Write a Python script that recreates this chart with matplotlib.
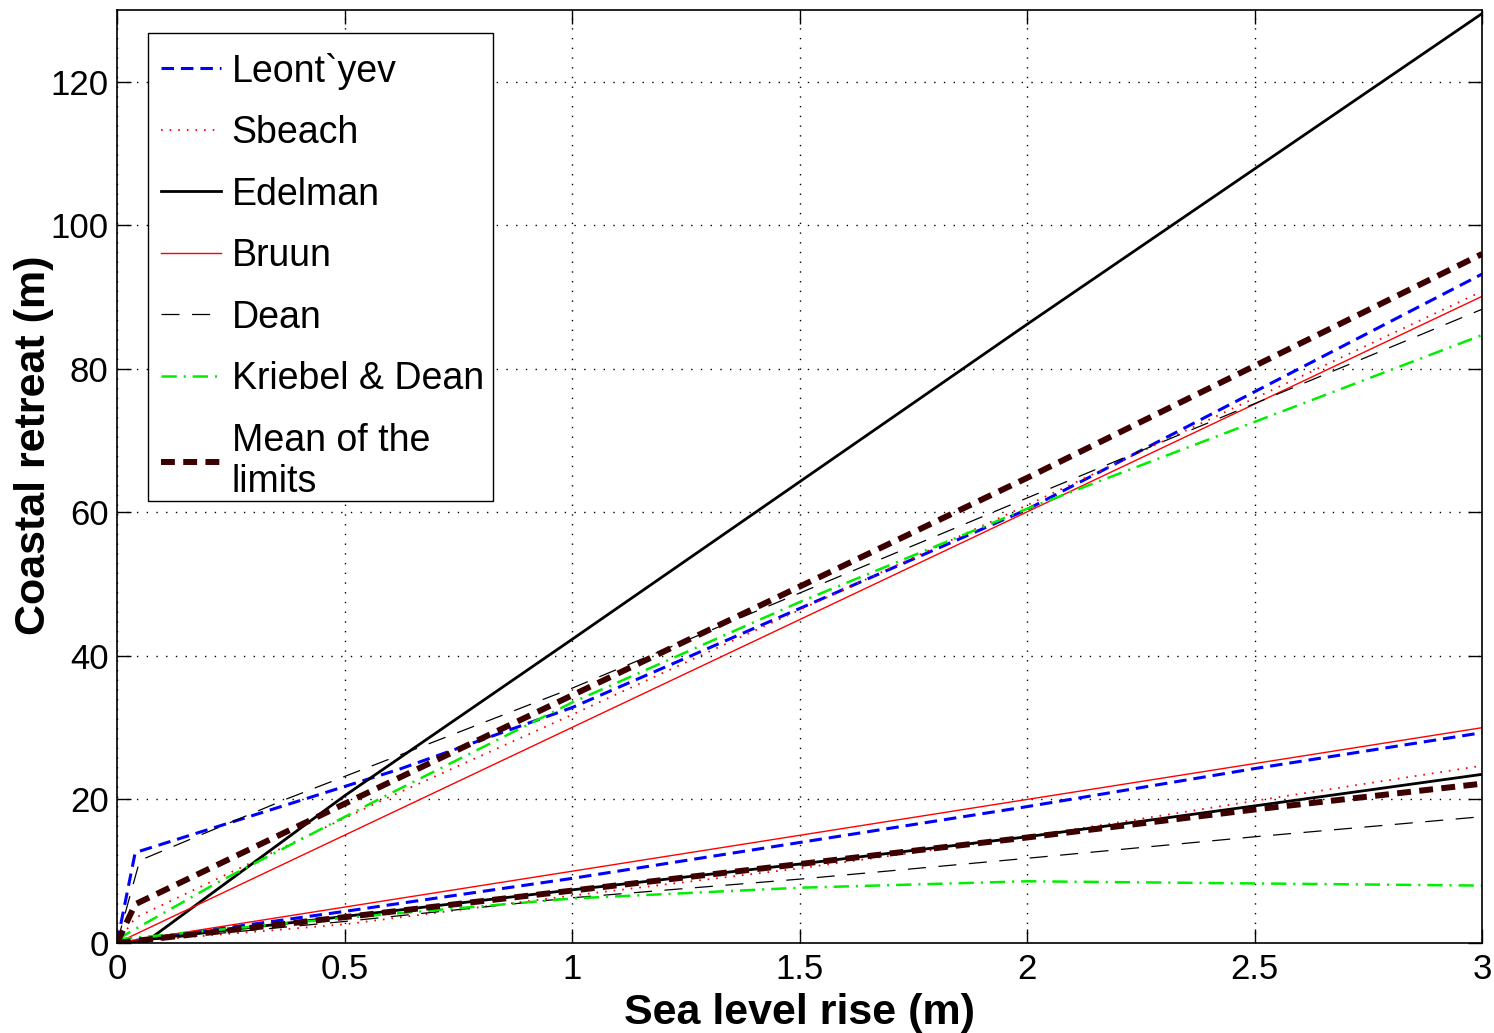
import matplotlib
matplotlib.use('Agg')
import matplotlib.pyplot as plt
from matplotlib.patches import Rectangle

# # # # # # # # # # # # #    DATA    # # # # # # # # # # # # #

# upper limits
leont_up_x = [0, 0.04, 0.41, 0.62, 1, 2, 3]
leont_up_y = [0, 12.6, 20.0, 24.2, 32.8, 60.4, 93.2]
sbeach_up_x = [0, 0.04, 0.59, 1, 2, 3]
sbeach_up_y = [0, 3.5, 20.1, 31.8, 61.0, 90.8]
edel_up_x = [0, 0.06, 0.5, 1, 2, 3]
edel_up_y = [0, 0, 20.5, 42.3, 86.2, 129.5]
bruun_up_x = [0, 3]
bruun_up_y = [0, 90.1]
dean_up_x = [0, 0.05, 0.37, 1, 2, 3]
dean_up_y = [0, 11.5, 20.0, 35.5, 62.0, 88.3]
kd_up_x = [0, 0.22, 0.59, 1, 1.5, 2, 3]
kd_up_y = [0.5, 8.4, 20.5, 33.5, 47.5, 60.5, 84.7]
mean_up_x = [0, 0.04, 0.52, 1, 2, 3]
mean_up_y = [0, 5.4, 20.0, 34.5, 64.8, 96.0]

# lower limits
slr = [0, 0.5, 1, 1.5, 2, 2.5, 3]
leont_lo = [0, 4.4, 9.0, 14.0, 19.0, 24.3, 29.3]
sbeach_lo = [0, 2.6, 6.6, 10.4, 14.8, 19.8, 24.7]
edel_lo = [0, 3.7, 7.4, 11.0, 14.8, 19.1, 23.5]
bruun_lo = [0, 5.0, 10.0, 15.0, 20.0, 25.0, 30.0]
dean_lo = [0, 3.0, 6.3, 8.9, 11.8, 14.8, 17.6]
kd_lo = [0.5, 3.5, 6.2, 7.7, 8.6, 8.3, 8.0]
mean_lo = [0, 3.6, 7.3, 11.0, 14.7, 18.6, 22.2]

labels = ['Leont`yev', 'Sbeach', 'Edelman', 'Bruun', 'Dean',
          'Kriebel & Dean', 'Mean of the\nlimits']

# # # # # # # # # # # # #    CREATE GRAPH    # # # # # # # # # # # # #

plt.rcParams['font.family'] = ['Liberation Sans', 'DejaVu Sans']
plt.rcParams['lines.scale_dashes'] = False

fig = plt.figure(figsize=(14.94, 10.33), dpi=100)
ax = fig.add_axes([117 / 1494, 1 - 943 / 1033, 1365 / 1494, 933 / 1033])

mean_col = '#3c0000'
styles = [
    dict(color='#0000ff', lw=2.2, ls=(0, (9, 5))),
    dict(color='#ff0000', lw=1.3, ls=(0, (1.2, 5))),
    dict(color='black', lw=2.0, ls='-'),
    dict(color='#ff0000', lw=1.0, ls='-'),
    dict(color='black', lw=0.9, ls=(0, (13, 9))),
    dict(color='#00ee00', lw=1.8, ls=(0, (11, 5, 1.5, 5))),
    dict(color=mean_col, lw=4.3, ls=(0, (10, 6))),
]

upper = [(leont_up_x, leont_up_y), (sbeach_up_x, sbeach_up_y),
         (edel_up_x, edel_up_y), (bruun_up_x, bruun_up_y),
         (dean_up_x, dean_up_y), (kd_up_x, kd_up_y),
         (mean_up_x, mean_up_y)]
lower = [leont_lo, sbeach_lo, edel_lo, bruun_lo, dean_lo, kd_lo, mean_lo]

handles = []
for (ux, uy), lo, st, lab in zip(upper, lower, styles, labels):
    h, = ax.plot(ux, uy, label=lab, **st)
    ax.plot(slr, lo, **st)
    handles.append(h)

# # # # # # # # # # # # #    AXES    # # # # # # # # # # # # #

ax.set_xlim(0, 3)
ax.set_ylim(0, 130)
ax.set_xticks([0, 0.5, 1, 1.5, 2, 2.5, 3])
ax.set_xticklabels(['0', '0.5', '1', '1.5', '2', '2.5', '3'])
ax.set_yticks([0, 20, 40, 60, 80, 100, 120])
ax.tick_params(direction='in', top=True, right=True, length=10, width=1,
               labelsize=25)
ax.tick_params(axis='x', pad=7)
ax.tick_params(axis='y', pad=6)
ax.grid(True, color='black', ls=(0, (1, 6)), lw=1.0)
for s in ax.spines.values():
    s.set_linewidth(1.2)

ax.set_xlabel('Sea level rise (m)', fontsize=31, fontweight='bold', labelpad=5)
ax.set_ylabel('Coastal retreat (m)', fontsize=31, fontweight='bold')
ax.yaxis.set_label_coords(-0.0458, 0.533)

# legend box drawn separately (MATLAB style, tight around the entries)
box = Rectangle((0.0227, 0.4737), 0.2527, 0.5016, transform=ax.transAxes,
                facecolor='white', edgecolor='black', lw=1.0, zorder=4.9)
ax.add_patch(box)
leg = ax.legend(handles=handles, loc='upper left',
                bbox_to_anchor=(0.0183, 0.9753), fontsize=27,
                frameon=False, handlelength=1.6, handletextpad=0.27,
                labelspacing=0.68, borderpad=0.52, borderaxespad=0)

fig.savefig('out.png', dpi=100)
